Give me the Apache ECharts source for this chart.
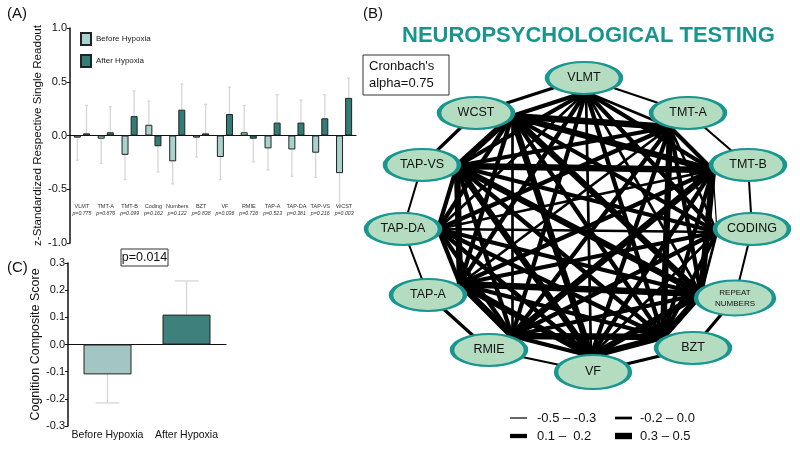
<!DOCTYPE html>
<html><head><meta charset="utf-8">
<script src="https://cdn.jsdelivr.net/npm/echarts@6/dist/echarts.min.js"></script>
<style>html,body{margin:0;padding:0;background:#fff}#c{width:800px;height:451px}</style>
</head><body><div id="c"></div>
<script>
// ---------- Panel A data ----------
const tests = ['VLMT','TMT-A','TMT-B','Coding','Numbers','BZT','VF','RMIE','TAP-A','TAP-DA','TAP-VS','WCST'];
const pValues = ['p=0.775','p=0.876','p=0.099','p=0.162','p=0.122','p=0.838','p=0.036','p=0.726','p=0.523','p=0.381','p=0.216','p=0.003'];
const beforeVals = [-0.02,-0.03,-0.18,0.10,-0.24,-0.02,-0.20,0.03,-0.12,-0.13,-0.16,-0.35];
const afterVals  = [0.02,0.03,0.18,-0.10,0.24,0.02,0.20,-0.03,0.12,0.12,0.16,0.35];
const beforeSem  = [0.21,0.23,0.23,0.22,0.21,0.18,0.21,0.25,0.20,0.25,0.23,0.29];
const afterSem   = [0.26,0.24,0.235,0.24,0.24,0.27,0.25,0.215,0.26,0.21,0.22,0.185];
const groups = ['Before Hypoxia','After Hypoxia'];
// ---------- Panel C data ----------
const compositeVals = [-0.11, 0.11];
const compositeSem  = [0.105, 0.124];
const compositeP = 'p=0.014';
// ---------- Panel B data ----------
const netNodes = ['VLMT','TMT-A','TMT-B','CODING','REPEAT\nNUMBERS','BZT','VF','RMIE','TAP-A','TAP-DA','TAP-VS','WCST'];
// upper-triangular correlations: row i holds r(i, j) for j > i
const netCorr = [
  [-0.08, 0.14, 0.12, -0.11, 0.16, -0.05, 0.13, 0.18, -0.12, 0.15, 0.19],
  [0.17, -0.09, 0.13, 0.36, 0.15, 0.11, -0.14, 0.16, 0.12, 0.38],
  [-0.34, 0.42, 0.14, 0.18, 0.33, 0.12, -0.06, 0.39, 0.41],
  [-0.07, 0.16, -0.13, 0.12, 0.17, -0.04, 0.14, 0.19],
  [0.37, 0.44, 0.15, 0.35, 0.13, 0.40, 0.36],
  [0.38, 0.34, 0.12, 0.17, 0.14, 0.16],
  [0.18, 0.43, 0.11, 0.31, 0.37],
  [0.39, 0.15, 0.13, -0.10],
  [0.16, 0.45, 0.12],
  [0.14, 0.18],
  [0.41]
];
// correlations between neighbouring tests around the ring
const ringCorr = [-0.1,-0.12,-0.15,-0.08,0.18,0.14,-0.15,0.15,-0.14,-0.16,0.17,0.16];
const cronbach = "Cronbach's\nalpha=0.75";
const legendBins = ['-0.5 – -0.3','-0.2 – 0.0','0.1 –  0.2','0.3 – 0.5'];
const legendRep = [-0.4,-0.1,0.15,0.4];

// ---------- layout (positions, not data) ----------
const nodePos = [[584,78],[688,113],[748,165],[752,229],[735,298],[693,348],[593,372],[489,350],[428,295],[403,229],[422,165],[476,113]];
const anchorPos = [[586,92],[670,127],[713,170],[717,232],[701,294],[663,337],[591,356],[512,336],[460,284],[438,229],[457,166],[512,116]];
const FONT = "'Liberation Sans', Arial, sans-serif";
const cLight = '#a8d2cb', cDark = '#327d77';
const cLightC = '#a3c6c3', cDarkC = '#3e807c';

function corrWidth(r){ if (r <= -0.25) return 1.2; if (r <= 0.05) return 2.7; if (r <= 0.25) return 4.3; return 6.4; }
function fmt1(v){ return Math.abs(v) < 1e-9 ? '0.0' : v.toFixed(1); }

function errBar(vals, sems, offset, cap){
  return function(params, api){
    const i = api.value(0), v = api.value(1), s = api.value(2);
    const end = v >= 0 ? v + s : v - s;
    const p0 = api.coord([i, v]), p1 = api.coord([i, end]);
    const x = p0[0] + offset;
    return {type:'group', children:[
      {type:'line', shape:{x1:x,y1:p0[1],x2:x,y2:p1[1]}, style:{stroke:'#d6d6d6', lineWidth:1.3}},
      {type:'line', shape:{x1:x-cap,y1:p1[1],x2:x+cap,y2:p1[1]}, style:{stroke:'#d6d6d6', lineWidth:1.3}}
    ]};
  };
}

const chart = echarts.init(document.getElementById('c'));

// graph nodes & links
const gNodes = [], gLinks = [];
netNodes.forEach((n,i)=>{
  gNodes.push({name:'N'+i, value:nodePos[i], symbol:'path://M0,16A36,16 0 1,1 72,16A36,16 0 1,1 0,16Z',
    symbolSize: i===4 ? [78,35] : (i===6 ? [74,34] : [74,32]),
    itemStyle:{color:'#b4dcc0', borderColor:'#18968f', borderWidth:3},
    label:{show:true, formatter:n, fontSize: i===4 ? 8 : 12.5, color:'#111', fontFamily:FONT, lineHeight: i===4?11:14}});
});
netNodes.forEach((n,i)=>{
  gNodes.push({name:'A'+i, value:anchorPos[i], symbol:'circle', symbolSize:1, itemStyle:{opacity:0}, label:{show:false}});
});
ringCorr.forEach((r,i)=>{
  gLinks.push({source:'N'+i, target:'N'+((i+1)%12), lineStyle:{width:corrWidth(r)*0.75}});
});
netCorr.forEach((row,i)=>{
  row.forEach((r,k)=>{ const j=i+1+k; gLinks.push({source:'A'+i, target:'A'+j, lineStyle:{width:corrWidth(r)}}); });
});

const legendY = [418, 436], legendX = [510, 615], textX = [537, 640];
const legendGraphics = [];
legendBins.forEach((t,k)=>{
  const row = Math.floor(k/2), col = k%2;
  const w = corrWidth(legendRep[k]);
  legendGraphics.push({type:'line', shape:{x1:legendX[col], y1:legendY[row], x2:legendX[col]+17, y2:legendY[row]}, style:{stroke:'#000', lineWidth:w}});
  legendGraphics.push({type:'text', x:textX[col], y:legendY[row], style:{text:t, font:'13px '+FONT, fill:'#111', textVerticalAlign:'middle'}});
});

const option = {
  animation:false,
  textStyle:{fontFamily:FONT},
  title:{text:'NEUROPSYCHOLOGICAL TESTING', left:397, top:20, textStyle:{fontSize:22, fontWeight:900, color:'#17968f', fontFamily:FONT}},
  legend:{data:groups, left:75, top:27, orient:'vertical', itemWidth:10, itemHeight:12, itemGap:8, icon:'rect',
    textStyle:{fontSize:8, color:'#222', fontFamily:FONT}},
  grid:[
    {left:70, top:28, width:286, height:215},
    {left:68, top:263, width:158, height:163},
    {left:0, top:0, width:800, height:451}
  ],
  xAxis:[
    {type:'category', gridIndex:0, data:tests, axisLine:{onZero:true, lineStyle:{color:'#111', width:1.2}}, axisTick:{show:false}, axisLabel:{show:false}},
    {type:'category', gridIndex:0, data:tests, position:'bottom', offset:-40, axisLine:{show:false, onZero:false}, axisTick:{show:false},
      axisLabel:{interval:0, margin:0, formatter:(v,i)=>'{n|'+v+'}\n{p|'+pValues[i]+'}',
        rich:{n:{fontSize:5.5, color:'#333', fontFamily:FONT, lineHeight:7}, p:{fontSize:5.2, fontStyle:'italic', color:'#333', fontFamily:FONT, lineHeight:7}}}},
    {type:'category', gridIndex:1, data:groups, axisLine:{onZero:true, lineStyle:{color:'#111', width:1.2}}, axisTick:{show:false}, axisLabel:{show:false}},
    {type:'category', gridIndex:1, data:groups, position:'bottom', axisLine:{show:false, onZero:false}, axisTick:{show:false},
      axisLabel:{interval:0, margin:4, fontSize:10.5, color:'#111', fontFamily:FONT}},
    {type:'value', gridIndex:2, min:0, max:800, show:false}
  ],
  yAxis:[
    {type:'value', gridIndex:0, min:-1, max:1, interval:0.5, name:'z-Standardized Respective Single Readout', nameLocation:'middle', nameGap:24,
      nameTextStyle:{fontSize:11.6, color:'#111', fontFamily:FONT}, splitLine:{show:false},
      axisLine:{show:true, onZero:false, lineStyle:{color:'#111', width:1.5}}, axisTick:{show:true, length:3, lineStyle:{color:'#111'}},
      axisLabel:{formatter:fmt1, fontSize:11, color:'#111', margin:3}},
    {type:'value', gridIndex:1, min:-0.3, max:0.3, interval:0.1, name:'Cognition Composite Score', nameLocation:'middle', nameGap:23,
      nameTextStyle:{fontSize:12.5, color:'#111', fontFamily:FONT}, splitLine:{show:false},
      axisLine:{show:true, onZero:false, lineStyle:{color:'#111', width:1.5}}, axisTick:{show:true, length:3, lineStyle:{color:'#111'}},
      axisLabel:{formatter:fmt1, fontSize:11, color:'#111', margin:3}},
    {type:'value', gridIndex:2, min:0, max:451, inverse:true, show:false}
  ],
  series:[
    {name:groups[0], type:'bar', xAxisIndex:0, yAxisIndex:0, data:beforeVals, barWidth:7, barGap:'30%',
      itemStyle:{color:cLight, borderColor:'#222', borderWidth:1}},
    {name:groups[1], type:'bar', xAxisIndex:0, yAxisIndex:0, data:afterVals, barWidth:7, barGap:'30%',
      itemStyle:{color:cDark, borderColor:'#222', borderWidth:1}},
    {type:'custom', xAxisIndex:0, yAxisIndex:0, renderItem:errBar(beforeVals, beforeSem, -4.55, 1.5),
      data:beforeVals.map((v,i)=>[i,v,beforeSem[i]]), z:1},
    {type:'custom', xAxisIndex:0, yAxisIndex:0, renderItem:errBar(afterVals, afterSem, 4.55, 1.5),
      data:afterVals.map((v,i)=>[i,v,afterSem[i]]), z:1},
    {name:'Composite', type:'bar', xAxisIndex:2, yAxisIndex:1, barWidth:48,
      data:compositeVals.map((v,i)=>({value:v, itemStyle:{color: i===0?cLightC:cDarkC}})),
      itemStyle:{borderColor:'#222', borderWidth:1}},
    {type:'custom', xAxisIndex:2, yAxisIndex:1, renderItem:errBar(compositeVals, compositeSem, 0, 12),
      data:compositeVals.map((v,i)=>[i,v,compositeSem[i]]), z:1},
    {type:'graph', layout:'none', coordinateSystem:'cartesian2d', xAxisIndex:4, yAxisIndex:2, silent:true,
      data:gNodes, links:gLinks, lineStyle:{color:'#000', opacity:1, curveness:0}, emphasis:{disabled:true}}
  ],
  graphic:[
    {type:'text', left:7, top:6, style:{text:'(A)', font:'15px '+FONT, fill:'#111'}},
    {type:'text', left:363, top:6, style:{text:'(B)', font:'15px '+FONT, fill:'#111'}},
    {type:'text', left:7, top:260, style:{text:'(C)', font:'15px '+FONT, fill:'#111'}},
    {type:'rect', shape:{x:121, y:249, width:47, height:17}, style:{fill:'#fff', stroke:'#333', lineWidth:1}},
    {type:'text', x:144.5, y:258, style:{text:compositeP, font:'12.5px '+FONT, fill:'#111', textAlign:'center', textVerticalAlign:'middle'}},
    {type:'rect', shape:{x:363, y:55, width:86, height:40}, style:{fill:'#fff', stroke:'#333', lineWidth:1}},
    {type:'text', x:369, y:75, style:{text:cronbach, font:'13px '+FONT, fill:'#111', textVerticalAlign:'middle', lineHeight:17}},
    ...legendGraphics
  ]
};
chart.setOption(option);
</script></body></html>
